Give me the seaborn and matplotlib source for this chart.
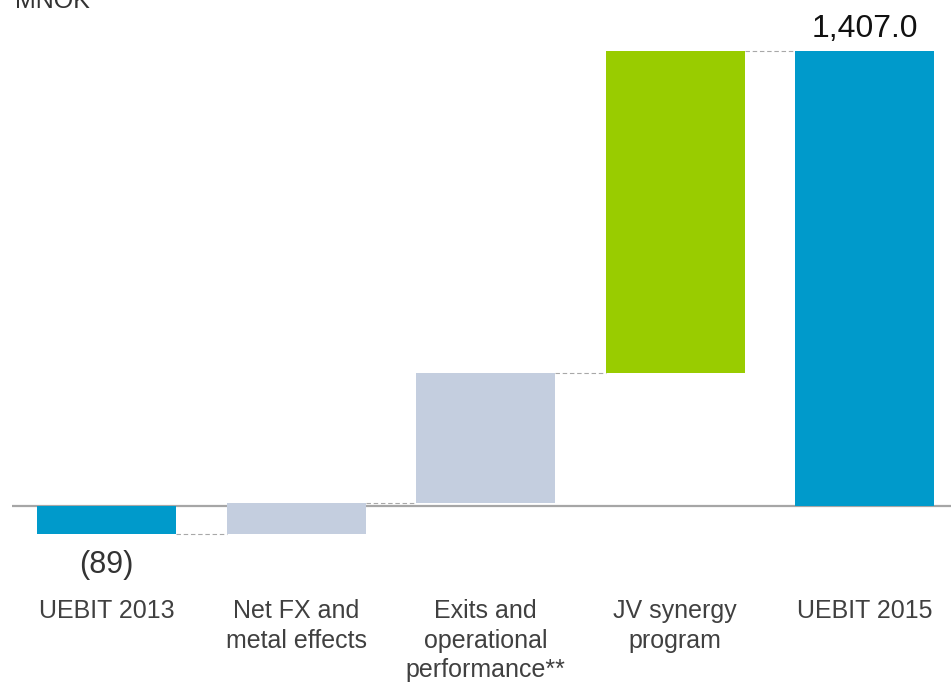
import numpy as np
import pandas as pd
import matplotlib
matplotlib.use("Agg")
import matplotlib.pyplot as plt
import seaborn as sns

# Bridge from UEBIT 2013 to UEBIT 2015 (MNOK)
categories = ["UEBIT 2013", "Net FX and\nmetal effects", "Exits and\noperational\nperformance**",
              "JV synergy\nprogram", "UEBIT 2015"]
values = [-89, 97, 401, 998, 1407]
is_total = [True, False, False, False, True]
value_labels = ["(89)", None, None, None, "1,407.0"]
bar_colors = ["#009ACB", "#C4CEDF", "#C4CEDF", "#99CC00", "#009ACB"]

# Floating bar bottoms from the running total
bottoms = []
running = 0.0
for v, tot in zip(values, is_total):
    if tot:
        bottoms.append(0.0)
        running = v
    else:
        bottoms.append(running)
        running += v
ends = [b + v for b, v in zip(bottoms, values)]

df = pd.DataFrame({"step": [c.replace("\n", " ") for c in categories], "value": values})

sns.set_style("white")
plt.rcParams["font.family"] = ["Liberation Sans", "DejaVu Sans"]

W, H, DPI = 951, 682, 100
fig = plt.figure(figsize=(W / DPI, H / DPI), dpi=DPI)
ax = fig.add_axes([12 / W, 0, 1 - 12 / W, 1])

bar_w = 0.7335
sns.barplot(data=df, x="step", y="value", bottom=bottoms, color=bar_colors[0],
            width=bar_w, linewidth=0, saturation=1, ax=ax, zorder=3)
for patch, col in zip(ax.patches, bar_colors):
    patch.set_facecolor(col)
    patch.set_edgecolor("none")

ax.set_xlim(-0.5, 4.455)
ax.set_ylim(-545.8, 1563.2)
ax.axis("off")

# Zero line
ax.axhline(0, color="#A6A6A6", lw=1.6, zorder=1)

# Dashed connectors at each running total
for i in range(len(values) - 1):
    level = ends[i]
    ax.plot([i + bar_w / 2, i + 1 - bar_w / 2], [level, level], color="#A8A8A8",
            lw=0.8, linestyle=(0, (4, 2.5)), zorder=2)

# Value labels
for i, lab in enumerate(value_labels):
    if lab is None:
        continue
    v = ends[i]
    if v < 0:
        ax.text(i, -209, lab, ha="center", va="baseline", fontsize=22, color="#333333")
    else:
        ax.text(i, v + 41.8, lab, ha="center", va="baseline", fontsize=23, color="#111111")

# Category labels
for i, cat in enumerate(categories):
    ax.text(i, -289, cat, ha="center", va="top", fontsize=18, color="#404040",
            linespacing=1.3)

fig.text(15 / W, 674 / H, "MNOK", ha="left", va="baseline", fontsize=18, color="#333333")

fig.savefig("out.png", dpi=DPI)
